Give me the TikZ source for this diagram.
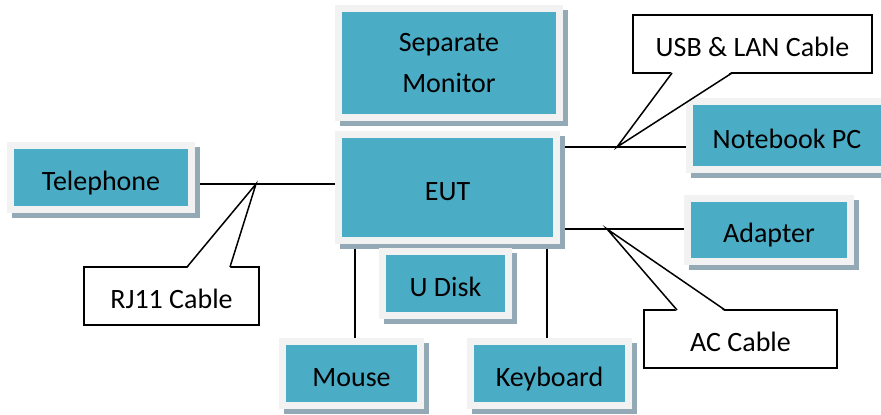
\documentclass[tikz,border=0pt]{standalone}
\usepackage{fontspec}
\setmainfont{Carlito}
\usetikzlibrary{shadows}
\pgfdeclarelayer{background}
\pgfdeclarelayer{canvas}
\pgfsetlayers{canvas,background,main}
\definecolor{tealfill}{HTML}{4BACC6}
\definecolor{framegray}{HTML}{F2F2F2}
\definecolor{shadowgray}{HTML}{93AAB6}
\tikzset{
  devbox/.style={fill=framegray, draw=none, inner sep=0pt, outer sep=0pt, align=center,
    font=\fontsize{28}{41}\selectfont,
    general shadow={fill=shadowgray, shadow xshift=5pt, shadow yshift=-5pt},
    path picture={\fill[tealfill] ([xshift=7pt,yshift=-7pt]path picture bounding box.north west) rectangle ([xshift=-7pt,yshift=7pt]path picture bounding box.south east);}},
  oneline/.style={text height=25pt, text depth=0pt},
  callbox/.style={draw=black, fill=white, line width=1.5pt, inner sep=0pt, outer sep=0pt,
    font=\fontsize{28}{32}\selectfont, text height=25pt, text depth=0pt},
  wire/.style={draw=black, line width=1.5pt},
  pointer/.style={draw=black, line width=1.5pt, line join=miter}
}
\begin{document}
\begin{tikzpicture}[x=1pt, y=-1pt]
\begin{pgfonlayer}{canvas}
\fill[white] (0,0) rectangle (881,415);
\end{pgfonlayer}
\useasboundingbox (0,0) rectangle (881,415);
% devices
\node[devbox, minimum width=228pt, minimum height=116pt] (mon) at (449,63) {Separate\\Monitor};
\node[devbox, oneline, minimum width=225pt, minimum height=113pt] (eut) at (447.5,187.5) {EUT};
\node[devbox, oneline, minimum width=188pt, minimum height=71pt] (tel) at (101,177.5) {Telephone};
\node[devbox, oneline, minimum width=202pt, minimum height=75pt] (nb) at (787,135.5) {Notebook PC};
\node[devbox, oneline, minimum width=170pt, minimum height=70pt] (ad) at (769,230) {Adapter};
\node[devbox, oneline, minimum width=133pt, minimum height=71pt] (ud) at (445.5,283.5) {U Disk};
\node[devbox, oneline, minimum width=145pt, minimum height=71pt] (mouse) at (351.5,373.5) {Mouse};
\node[devbox, oneline, minimum width=165pt, minimum height=71pt] (kb) at (549.5,373.5) {Keyboard};
% junctions
\coordinate (j1) at (256,184);
\coordinate (j2) at (617,147);
\coordinate (j3) at (607,229);
% connectors
\begin{pgfonlayer}{background}
\draw[wire] (tel.east |- j1) -- (eut.west |- j1);
\draw[wire] (eut.east |- j2) -- (nb.west |- j2);
\draw[wire] (eut.east |- j3) -- (ad.west |- j3);
\draw[wire] ([xshift=3.5pt]mouse.north) -- ([xshift=3.5pt]mouse.north |- eut.south);
\draw[wire] ([xshift=-2.5pt]kb.north) -- ([xshift=-2.5pt]kb.north |- eut.south);
\end{pgfonlayer}
% callouts
\node[callbox, minimum width=175pt, minimum height=58pt] (rj) at (171.5,296) {RJ11 Cable};
\node[callbox, minimum width=239pt, minimum height=58pt] (usb) at (752.5,44) {USB \& LAN Cable};
\node[callbox, minimum width=193pt, minimum height=58pt] (ac) at (740.5,339) {AC Cable};
% pointers
\fill[white] ([xshift=103pt,yshift=-1.5pt]rj.north west) -- (j1) -- ([xshift=146pt,yshift=-1.5pt]rj.north west) -- cycle;
\draw[pointer] ([xshift=103pt]rj.north west) -- (j1) -- ([xshift=146pt]rj.north west);
\fill[white] ([xshift=39pt,yshift=1.5pt]usb.south west) -- (j2) -- ([xshift=99pt,yshift=1.5pt]usb.south west) -- cycle;
\draw[pointer] ([xshift=39pt]usb.south west) -- (j2) -- ([xshift=99pt]usb.south west);
\fill[white] ([xshift=33pt,yshift=-1.5pt]ac.north west) -- (j3) -- ([xshift=81pt,yshift=-1.5pt]ac.north west) -- cycle;
\draw[pointer] ([xshift=33pt]ac.north west) -- (j3) -- ([xshift=81pt]ac.north west);
\end{tikzpicture}
\end{document}
